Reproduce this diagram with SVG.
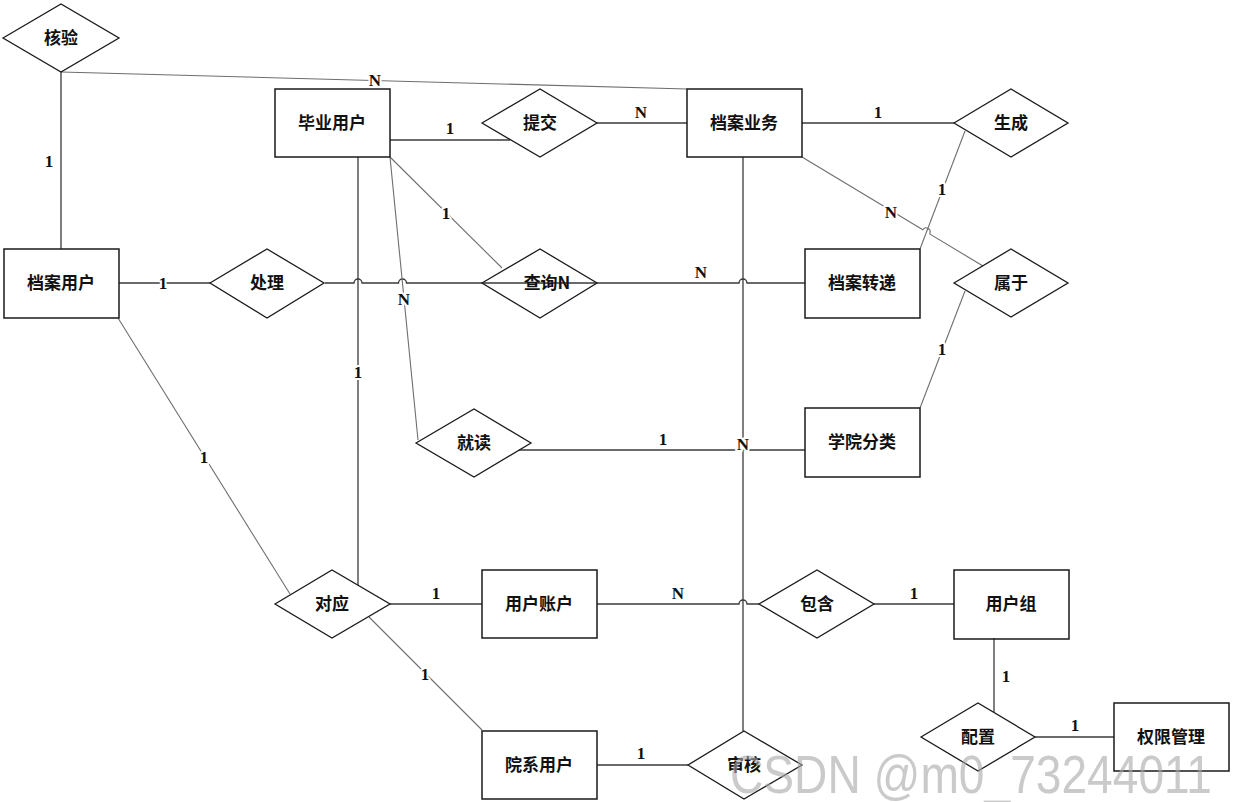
<svg xmlns="http://www.w3.org/2000/svg" width="1233" height="802" viewBox="0 0 1233 802">
<style>
.bg{fill:#fff}
.ln{fill:none;stroke:#3a3a3a;stroke-width:1.3}
.lt{fill:none;stroke:#6e6e6e;stroke-width:1.1}
.ent{fill:none;stroke:#1a1a1a;stroke-width:1.5}
.rel{fill:none;stroke:#1a1a1a;stroke-width:1.3}
.t{font-family:"Noto Sans CJK SC","Noto Sans CJK JP",sans-serif;font-size:17px;font-weight:700;fill:#111;text-anchor:middle}
.c{font-family:"Liberation Serif","Times New Roman",serif;font-size:17px;font-weight:700;fill:#111;text-anchor:middle;stroke:#fff;stroke-width:4;paint-order:stroke;stroke-linejoin:round}
.wm{font-family:"Liberation Sans",Arial,sans-serif;font-size:54px;fill:#a8a8a8;opacity:0.6}
</style>
<rect class="bg" x="0" y="0" width="1233" height="802"/>
<g id="connectors">
<path class="ln" d="M61 72 L61 249"/>
<path class="lt" d="M61 72 L687 89"/>
<path class="ln" d="M390 140 L510 140"/>
<path class="ln" d="M597 123 L687 123"/>
<path class="ln" d="M802 123 L954 123"/>
<path class="lt" d="M802 157 L922.8 229.7 A4 4 0 0 1 929.6 233.9 L983 266"/>
<path class="lt" d="M965 131 L920 249"/>
<path class="lt" d="M965 291 L920 408"/>
<path class="ln" d="M743 157 L743 731"/>
<path class="ln" d="M119 283 L210 283"/>
<path class="ln" d="M325 283 L354 283 A4 4 0 0 1 362 283 L398.5 283 A4 4 0 0 1 406.5 283 L739 283 A4 4 0 0 1 747 283 L805 283"/>
<path class="lt" d="M390 157 L502 268"/>
<path class="lt" d="M390 157 L418 440"/>
<path class="ln" d="M358 157 L358 585"/>
<path class="ln" d="M519 450 L805 450"/>
<path class="lt" d="M118 318 L290 594"/>
<path class="ln" d="M390 604 L482 604"/>
<path class="ln" d="M597 604 L739 604 A4 4 0 0 1 747 604 L759 604"/>
<path class="ln" d="M874 604 L954 604"/>
<path class="ln" d="M994 638 L994 712"/>
<path class="ln" d="M1035 737 L1114 737"/>
<path class="lt" d="M369 617 L482 730"/>
<path class="ln" d="M597 765 L688 765"/>
</g>
<g id="cardinalities">
<text class="c" x="49" y="167">1</text>
<text class="c" x="375" y="86">N</text>
<text class="c" x="450" y="134">1</text>
<text class="c" x="641" y="118">N</text>
<text class="c" x="878" y="118">1</text>
<text class="c" x="891" y="218">N</text>
<text class="c" x="942" y="195">1</text>
<text class="c" x="942" y="355">1</text>
<text class="c" x="743" y="450">N</text>
<text class="c" x="163" y="289">1</text>
<text class="c" x="701" y="278">N</text>
<text class="c" x="446" y="219">1</text>
<text class="c" x="404" y="305">N</text>
<text class="c" x="358" y="378">1</text>
<text class="c" x="663" y="445">1</text>
<text class="c" x="204" y="463">1</text>
<text class="c" x="436" y="599">1</text>
<text class="c" x="678" y="599">N</text>
<text class="c" x="914" y="599">1</text>
<text class="c" x="1006" y="682">1</text>
<text class="c" x="1075" y="731">1</text>
<text class="c" x="425" y="680">1</text>
<text class="c" x="641" y="759">1</text>
</g>
<g id="n-heyan"><path class="rel" d="M3 38 L61 4 L119 38 L61 72 Z"/><text class="t" x="61" y="44">核验</text></g>
<g id="n-biye"><rect class="ent" x="275" y="89" width="115" height="68"/><text class="t" x="332" y="129">毕业用户</text></g>
<g id="n-tijiao"><path class="rel" d="M482 123 L540 89 L597 123 L540 157 Z"/><text class="t" x="540" y="129">提交</text></g>
<g id="n-dayewu"><rect class="ent" x="687" y="89" width="115" height="68"/><text class="t" x="744" y="129">档案业务</text></g>
<g id="n-shengcheng"><path class="rel" d="M954 123 L1011 89 L1068 123 L1011 157 Z"/><text class="t" x="1011" y="129">生成</text></g>
<g id="n-dayonghu"><rect class="ent" x="4" y="249" width="115" height="69"/><text class="t" x="61" y="289">档案用户</text></g>
<g id="n-chuli"><path class="rel" d="M210 283 L267 249 L324 283 L267 318 Z"/><text class="t" x="267" y="289">处理</text></g>
<g id="n-chaxun"><path class="rel" d="M482 283 L540 249 L597 283 L540 318 Z"/><text class="t" x="547" y="289">查询N</text></g>
<g id="n-zhuandi"><rect class="ent" x="805" y="249" width="115" height="69"/><text class="t" x="862" y="289">档案转递</text></g>
<g id="n-shuyu"><path class="rel" d="M954 283 L1011 249 L1068 283 L1011 317 Z"/><text class="t" x="1011" y="289">属于</text></g>
<g id="n-jiudu"><path class="rel" d="M416 443 L474 409 L531 443 L474 477 Z"/><text class="t" x="474" y="449">就读</text></g>
<g id="n-xueyuan"><rect class="ent" x="805" y="408" width="115" height="69"/><text class="t" x="862" y="448">学院分类</text></g>
<g id="n-duiying"><path class="rel" d="M275 604 L332 570 L390 604 L332 638 Z"/><text class="t" x="332" y="610">对应</text></g>
<g id="n-zhanghu"><rect class="ent" x="482" y="570" width="115" height="68"/><text class="t" x="539" y="610">用户账户</text></g>
<g id="n-baohan"><path class="rel" d="M759 604 L817 570 L874 604 L817 638 Z"/><text class="t" x="817" y="610">包含</text></g>
<g id="n-yonghuzu"><rect class="ent" x="954" y="570" width="115" height="69"/><text class="t" x="1011" y="610">用户组</text></g>
<g id="n-peizhi"><path class="rel" d="M921 737 L978 703 L1035 737 L978 771 Z"/><text class="t" x="978" y="743">配置</text></g>
<g id="n-quanxian"><rect class="ent" x="1114" y="703" width="115" height="68"/><text class="t" x="1171" y="743">权限管理</text></g>
<g id="n-yuanxi"><rect class="ent" x="482" y="731" width="115" height="68"/><text class="t" x="539" y="771">院系用户</text></g>
<g id="n-shenhe"><path class="rel" d="M688 765 L744 731 L802 765 L744 799 Z"/><text class="t" x="744" y="771">审核</text></g>
<text class="wm" x="730" y="793" textLength="482" lengthAdjust="spacingAndGlyphs">CSDN @m0_73244011</text>
</svg>
